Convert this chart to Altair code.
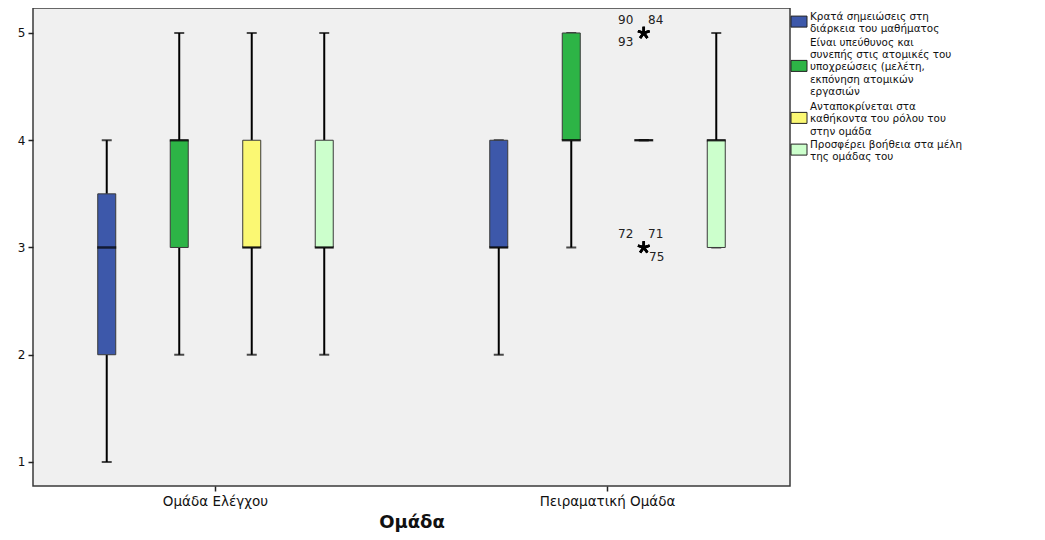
import altair as alt
import pandas as pd

# ---------------- data ----------------
groups = ["Ομάδα Ελέγχου", "Πειραματική Ομάδα"]
series = [
    "Κρατά σημειώσεις στη διάρκεια του μαθήματος",
    "Είναι υπεύθυνος και συνεπής στις ατομικές του υποχρεώσεις (μελέτη, εκπόνηση ατομικών εργασιών",
    "Ανταποκρίνεται στα καθήκοντα του ρόλου του στην ομάδα",
    "Προσφέρει βοήθεια στα μέλη της ομάδας του",
]
legend_lines = [
    ["Κρατά σημειώσεις στη", "διάρκεια του μαθήματος"],
    ["Είναι υπεύθυνος και", "συνεπής στις ατομικές του", "υποχρεώσεις (μελέτη,",
     "εκπόνηση ατομικών", "εργασιών"],
    ["Ανταποκρίνεται στα", "καθήκοντα του ρόλου του", "στην ομάδα"],
    ["Προσφέρει βοήθεια στα μέλη", "της ομάδας του"],
]
colors = ["#3d58aa", "#2db446", "#fbf873", "#ccffcc"]

control_min = [1, 2, 2, 2]
control_q1 = [2, 3, 3, 3]
control_med = [3, 4, 3, 3]
control_q3 = [3.5, 4, 4, 4]
control_max = [4, 5, 5, 5]

exp_min = [2, 3, 4, 3]
exp_q1 = [3, 4, 4, 3]
exp_med = [3, 4, 4, 4]
exp_q3 = [4, 5, 4, 4]
exp_max = [4, 5, 4, 5]

outlier_group = ["Πειραματική Ομάδα"] * 6
outlier_series = [series[2]] * 6
outlier_value = [5, 5, 5, 3, 3, 3]
outlier_id = ["90", "84", "93", "72", "71", "75"]

# label placement around the star (style only)
outlier_label_pos = ["ul", "ur", "ll", "ul", "ur", "lr"]

# ---------------- tables ----------------
rows = []
for g, mins, q1s, meds, q3s, maxs in [
    (groups[0], control_min, control_q1, control_med, control_q3, control_max),
    (groups[1], exp_min, exp_q1, exp_med, exp_q3, exp_max),
]:
    for s, a, b, c, d, e in zip(series, mins, q1s, meds, q3s, maxs):
        rows.append(dict(group=g, series=s, lo=a, q1=b, med=c, q3=d, hi=e))
box = pd.DataFrame(rows)

outl = pd.DataFrame(dict(group=outlier_group, series=outlier_series,
                         value=outlier_value, oid=outlier_id, pos=outlier_label_pos))

# legend layout (pixel positions relative to plot area)
LEG_FS = 10.4
LINE_H = 12.2
leg_text_rows, leg_swatch_rows = [], []
y = 9.0
gaps = [1.6, 3.2, 1.2]
for i, (s, lines) in enumerate(zip(series, legend_lines)):
    first = y
    for ln in lines:
        leg_text_rows.append(dict(series=s, txt=ln, py=y))
        y += LINE_H
    last = y - LINE_H
    mid = (first + last) / 2 - 1.5
    leg_swatch_rows.append(dict(series=s, y1=mid - 5.5, y2=mid + 5.5))
    if i < len(gaps):
        y += gaps[i]
leg_text = pd.DataFrame(leg_text_rows)
leg_sw = pd.DataFrame(leg_swatch_rows)

W, H = 757, 478
FONT = "DejaVu Sans"

x_enc = alt.X("group:N", sort=groups,
              scale=alt.Scale(paddingInner=0.069, paddingOuter=0),
              axis=alt.Axis(title="Ομάδα", labelAngle=0, labelFontSize=13.5,
                            labelFont=FONT, labelColor="#111", tickSize=5,
                            tickColor="#222", tickWidth=1.5, labelPadding=3,
                            domain=False, grid=False, titleFont=FONT,
                            titleFontSize=18, titleFontWeight="bold",
                            titleColor="#111", titlePadding=6))
xo = alt.XOffset("series:N", sort=series,
                 scale=alt.Scale(paddingInner=0, paddingOuter=0.517))
y_scale = alt.Scale(domain=[0.776, 5.233], nice=False, zero=False)
y_axis = alt.Axis(title=None, values=[1, 2, 3, 4, 5], format="d", tickSize=5,
                  tickColor="#222", tickWidth=1.5, labelFontSize=12, labelFont=FONT,
                  labelColor="#111", labelPadding=3, domain=False, grid=False)

base = alt.Chart(box).encode(x=x_enc, xOffset=xo)

whisk_lo = base.mark_rule(color="black", strokeWidth=2).encode(
    y=alt.Y("lo:Q", scale=y_scale, axis=y_axis), y2="q1:Q")
whisk_hi = base.mark_rule(color="black", strokeWidth=2).encode(
    y=alt.Y("q3:Q", scale=y_scale), y2="hi:Q")
cap_lo = base.mark_tick(color="black", thickness=2, size=10).encode(
    y=alt.Y("lo:Q", scale=y_scale))
cap_hi = base.mark_tick(color="black", thickness=2, size=10).encode(
    y=alt.Y("hi:Q", scale=y_scale))
boxes = base.mark_bar(width=18, stroke="#3a3a3a", strokeWidth=1).encode(
    y=alt.Y("q1:Q", scale=y_scale), y2="q3:Q",
    color=alt.Color("series:N", scale=alt.Scale(domain=series, range=colors),
                    legend=None))
median = base.mark_tick(color="black", thickness=2.5, size=19).encode(
    y=alt.Y("med:Q", scale=y_scale))

star_path = ("M0,-1L0,0M0,0L0.95,-0.31M0,0L0.59,0.81"
             "M0,0L-0.59,0.81M0,0L-0.95,-0.31")
obase = alt.Chart(outl).encode(x=x_enc, xOffset=xo, y=alt.Y("value:Q", scale=y_scale))
stars = obase.mark_point(shape=star_path, filled=False, stroke="black",
                         strokeWidth=2.5, size=150, opacity=1)
offs = {"ul": (-18, -13), "ur": (12, -13), "ll": (-18, 9), "lr": (13, 10)}
olabels = [
    obase.transform_filter(alt.datum.pos == k).mark_text(
        dx=dx, dy=dy, font=FONT, fontSize=12, color="#222", align="center",
        baseline="middle").encode(text="oid:N")
    for k, (dx, dy) in offs.items()
]

leg_boxes = alt.Chart(leg_sw).mark_rect(stroke="#222", strokeWidth=1).encode(
    x=alt.value(W + 1), x2=alt.value(W + 17),
    y=alt.Y("y1:Q", scale=None), y2="y2:Q",
    color=alt.Color("series:N", scale=alt.Scale(domain=series, range=colors),
                    legend=None))
leg_labels = alt.Chart(leg_text).mark_text(
    align="left", baseline="middle", font=FONT, fontSize=LEG_FS, color="#111").encode(
    x=alt.value(W + 20), y=alt.Y("py:Q", scale=None), text="txt:N")

chart = alt.layer(
    whisk_lo, whisk_hi, cap_lo, cap_hi, boxes, median, stars, *olabels,
    leg_boxes, leg_labels
).properties(
    width=W, height=H,
    autosize=alt.AutoSizeParams(type="none"),
    padding={"left": 25, "top": 0, "right": 247, "bottom": 46},
    background="white",
).configure_view(
    fill="#f0f0f0", stroke="#3a3a3a", strokeWidth=1.5
)

chart.save("out.html", embed_options={"renderer": "svg", "actions": False})
